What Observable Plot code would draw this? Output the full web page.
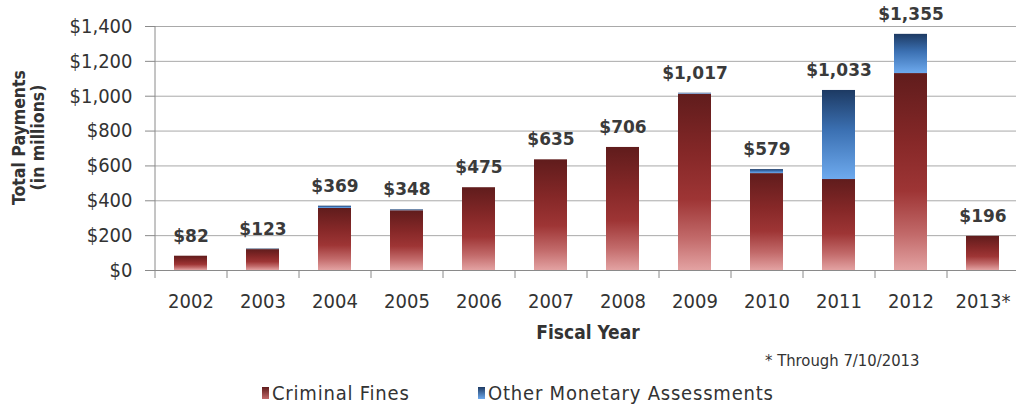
<!DOCTYPE html>
<html>
<head>
<meta charset="utf-8">
<script src="https://cdn.jsdelivr.net/npm/d3@7"></script>
<script src="https://cdn.jsdelivr.net/npm/@observablehq/plot@0.6"></script>
<style>
  html, body { margin: 0; padding: 0; background: #fff; }
  #wrap { position: relative; width: 1016px; height: 405px; overflow: hidden; font-family: "DejaVu Sans Condensed", "DejaVu Sans", sans-serif; color: #333; }
  #foot { position: absolute; left: 765px; top: 351px; font-size: 16.5px; color: #333; white-space: nowrap; }
  #legend { position: absolute; left: 0; top: 380px; width: 1016px; height: 25px; font-size: 20px; letter-spacing: 0.8px; color: #333; white-space: nowrap; }
  .item { position: absolute; top: 0; display: flex; align-items: center; height: 25px; }
  .sw { display: inline-block; width: 7px; height: 12px; margin-right: 3px; }
</style>
</head>
<body>
<div id="wrap">
  <div id="chart"></div>
  <div id="foot"></div>
  <div id="legend"></div>
</div>
<script>
// ---- data ----
const years = ["2002", "2003", "2004", "2005", "2006", "2007", "2008", "2009", "2010", "2011", "2012", "2013*"];
const criminalFines    = [82, 120, 356, 343, 475, 635, 706, 1012, 556, 522, 1130, 196];
const otherAssessments = [0, 3, 13, 5, 0, 0, 0, 5, 23, 511, 225, 0];
const totals           = [82, 123, 369, 348, 475, 635, 706, 1017, 579, 1033, 1355, 196];
const seriesNames = ["Criminal Fines", "Other Monetary Assessments"];
const yTicks = [0, 200, 400, 600, 800, 1000, 1200, 1400];
const yTitle = "Total Payments\n(in millions)";
const xTitle = "Fiscal Year";
const footnote = "* Through 7/10/2013";

// ---- tables built from arrays ----
const rows = [];
years.forEach((yr, i) => {
  rows.push({year: yr, series: seriesNames[0], value: criminalFines[i]});
  rows.push({year: yr, series: seriesNames[1], value: otherAssessments[i]});
});
const totalRows = years.map((yr, i) => ({year: yr, total: totals[i]}));

const money = d => "$" + d3.format(",")(d);
const svgNS = "http://www.w3.org/2000/svg";

function gradientDefs() {
  const defs = document.createElementNS(svgNS, "defs");
  defs.innerHTML = `
    <linearGradient id="gradRed" x1="0" y1="0" x2="0" y2="1">
      <stop offset="0" stop-color="#601c1c"/>
      <stop offset="0.35" stop-color="#862828"/>
      <stop offset="0.6" stop-color="#9e3535"/>
      <stop offset="0.82" stop-color="#c26a6a"/>
      <stop offset="1" stop-color="#e3a2a2"/>
    </linearGradient>
    <linearGradient id="gradBlue" x1="0" y1="0" x2="0" y2="1">
      <stop offset="0" stop-color="#1d3a63"/>
      <stop offset="0.45" stop-color="#3b70b2"/>
      <stop offset="1" stop-color="#6eaaee"/>
    </linearGradient>`;
  return defs;
}

const chart = Plot.plot({
  width: 1016,
  height: 350,
  marginTop: 26,
  marginBottom: 80,
  marginLeft: 155,
  marginRight: 0,
  style: { fontFamily: "'DejaVu Sans Condensed', 'DejaVu Sans', sans-serif", fontSize: "20px", color: "#333", background: "#fff", overflow: "visible" },
  x: { domain: years, range: [155, 1019], paddingInner: 0.54, paddingOuter: 0.27, label: null },
  y: { domain: [0, 1400], label: null },
  color: { domain: seriesNames, range: ["url(#gradRed)", "url(#gradBlue)"] },
  marks: [
    gradientDefs,
    Plot.gridY(yTicks, { stroke: "#a9a9a9", strokeOpacity: 1 }),
    Plot.barY(rows, Plot.stackY({ x: "year", y: "value", fill: "series", order: seriesNames })),
    Plot.ruleY([0], { stroke: "#8a8a8a" }),
    Plot.ruleX([years[0]], { dx: -36, y1: 0, y2: 1400, stroke: "#8a8a8a" }),
    Plot.axisY({ ticks: yTicks, tickSize: 10, tickPadding: 13, tickFormat: money, stroke: "#8a8a8a", label: null }),
    Plot.axisX({ tickSize: 8, tickFormat: () => "", dx: -36, stroke: "#8a8a8a", label: null }),
    Plot.axisX({ tickSize: 0, tickPadding: 23, label: null }),
    Plot.text(totalRows, { x: "year", y: "total", text: d => money(d.total), dy: -20, fontSize: 17, fontWeight: "bold", fontFamily: "'DejaVu Sans', sans-serif", fill: "#3a3a3a" }),
    Plot.text([xTitle], { text: d => d, frameAnchor: "bottom", dy: 68, dx: 2, fontSize: 19, fontWeight: "bold", fill: "#333" }),
    Plot.text([yTitle], { text: d => d, frameAnchor: "left", textAnchor: "middle", rotate: -90, dx: -127, dy: -11, fontSize: 17.5, fontWeight: "bold", lineHeight: 1.05, fill: "#333" })
  ]
});
document.getElementById("chart").appendChild(chart);

document.getElementById("foot").textContent = footnote;
const legend = document.getElementById("legend");
const swatchFills = ["linear-gradient(#601c1c, #c26a6a)", "linear-gradient(#1d3a63, #6eaaee)"];
const legendLeft = [262, 478];
seriesNames.forEach((name, i) => {
  const item = document.createElement("span");
  item.className = "item";
  item.style.left = legendLeft[i] + "px";
  const sw = document.createElement("span");
  sw.className = "sw";
  sw.style.background = swatchFills[i];
  item.appendChild(sw);
  item.appendChild(document.createTextNode(name));
  legend.appendChild(item);
});
</script>
</body>
</html>
